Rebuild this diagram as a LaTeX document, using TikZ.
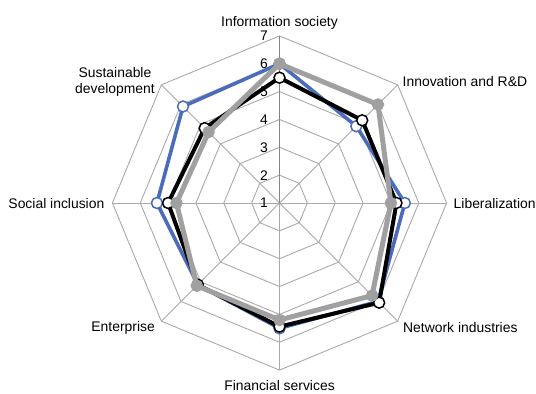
\documentclass[tikz,border=0pt]{standalone}
\usepackage{fontspec}
\setmainfont{Liberation Sans}
\usetikzlibrary{calc}
\definecolor{serblue}{RGB}{74,108,186}
\definecolor{sergray}{RGB}{160,160,160}
\definecolor{gridgray}{RGB}{170,170,170}
\definecolor{axisgray}{RGB}{134,134,134}
\begin{document}
\begin{tikzpicture}[x=1bp,y=1bp,
  lbl/.style={inner sep=0pt,font=\fontsize{13.9bp}{16bp}\selectfont},
  gridline/.style={draw=gridgray,line width=0.9bp},
  valaxis/.style={draw=axisgray,line width=1.6bp},
  blueline/.style={draw=serblue,line width=3.6bp,line join=miter},
  blackline/.style={draw=black,line width=4bp,line join=miter},
  grayline/.style={draw=sergray,line width=5bp,line join=miter},
  bluemark/.style={circle,draw=serblue,fill=white,line width=1.5bp,minimum size=11bp,inner sep=0pt},
  blackmark/.style={circle,draw=black,fill=white,line width=1.5bp,minimum size=11bp,inner sep=0pt},
  graymark/.style={circle,draw=sergray,fill=sergray,line width=1.5bp,minimum size=11bp,inner sep=0pt}]
\useasboundingbox (0,0) rectangle (536,393);
\fill[white] (0,0) rectangle (536,393);
\def\u{27.85}
\coordinate (C) at (279.5,190);
% rings
\foreach \k in {1,...,6}{
  \draw[gridline] ($(C)+(0:\k*\u)$) \foreach \a in {45,90,...,315}{ -- ($(C)+(\a:\k*\u)$)} -- cycle;
}
% spokes
\foreach \a in {0,45,135,180,225,270,315}{
  \coordinate (R\a) at ($(C)+(\a:6*\u)$);
  \draw[gridline] (C) -- (R\a);
}
\coordinate (R90) at ($(C)+(90:6*\u)$);
\draw[valaxis] (C) -- (R90);
% tick labels
\foreach \k in {1,...,7}{
  \node[lbl,anchor=east] (t\k) at ($(C)+(-11.5,{(\k-1)*\u})$) {\k};
}
% data
\def\angs{90,45,0,-45,-90,-135,180,135}
\newcommand\series[2]{%
  \foreach \v [count=\i] in {#2}{
    \pgfmathsetmacro\ang{{\angs}[\i-1]}
    \coordinate (#1\i) at ($(C)+(\ang:{(\v-1)*\u})$);
  }}
\series{B}{6.0,4.9,5.5,6.0,5.5,5.15,5.4,5.9}
\series{K}{5.5,5.2,5.2,6.06,5.44,5.15,5.0,4.8}
\series{G}{6.0,6.0,5.0,5.7,5.2,5.2,4.7,4.6}
\draw[blueline] (B1)--(B2)--(B3)--(B4)--(B5)--(B6)--(B7)--(B8)--cycle;
\foreach \i in {1,...,8}{\node[bluemark] (bm\i) at (B\i) {};}
\draw[blackline] (K1)--(K2)--(K3)--(K4)--(K5)--(K6)--(K7)--(K8)--cycle;
\foreach \i in {1,...,8}{\node[blackmark] (km\i) at (K\i) {};}
\draw[grayline] (G1)--(G2)--(G3)--(G4)--(G5)--(G6)--(G7)--(G8)--cycle;
\foreach \i in {1,...,8}{\node[graymark] (gm\i) at (G\i) {};}
% category labels
\node[lbl] (c1) at (279.5,370.5) {Information society};
\node[lbl,anchor=west] (c2) at (402.5,311.5) {Innovation and R\&D};
\node[lbl,anchor=west] (c3) at (453.5,189) {Liberalization};
\node[lbl,anchor=west] (c4) at (403,65.5) {Network industries};
\node[lbl] (c5) at (279.5,7.5) {Financial services};
\node[lbl,anchor=east] (c6) at (155,65.5) {Enterprise};
\node[lbl,anchor=east] (c7) at (104.5,189) {Social inclusion};
\node[lbl,anchor=east,align=center] (c8) at (155,311) {Sustainable\\development};
\end{tikzpicture}
\end{document}
